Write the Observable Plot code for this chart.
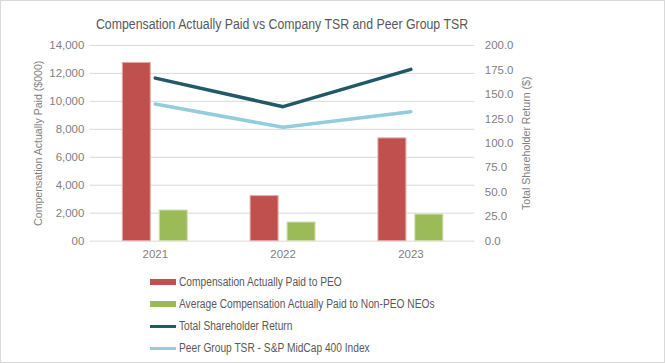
<!DOCTYPE html>
<html>
<head>
<meta charset="utf-8">
<script src="https://cdn.jsdelivr.net/npm/d3@7"></script>
<script src="https://cdn.jsdelivr.net/npm/@observablehq/plot@0.6"></script>
<style>
  html, body { margin: 0; padding: 0; background: #fff; }
  #frame { position: relative; width: 665px; height: 363px; box-sizing: border-box; border: 1px solid #d9d9d9; overflow: hidden; font-family: "Liberation Sans", Arial, sans-serif; }
  #title { position: absolute; left: 0; width: 562px; top: 15px; text-align: center; font-size: 14px; color: #595959; transform: scaleX(0.88); transform-origin: 281px 0; }
  #chart { position: absolute; left: -1px; top: -1px; }
  #legend { position: absolute; left: 149px; top: 270px; font-size: 12px; color: #595959; }
  .row { height: 22px; display: flex; align-items: center; }
  .sw { width: 26px; margin-right: 3px; flex: none; }
  .lt { display: inline-block; white-space: nowrap; transform: scaleX(0.85); transform-origin: 0 50%; }
</style>
</head>
<body>
<div id="frame">
  <div id="title">Compensation Actually Paid vs Company TSR and Peer Group TSR</div>
  <div id="chart"></div>
  <div id="legend"></div>
</div>
<script>
const years = ["2021", "2022", "2023"];
const peoCap = [12750, 3220, 7350];
const neoCap = [2190, 1330, 1900];
const tsr = [166.6, 137.4, 175.5];
const peerTsr = [140.1, 116.3, 132.3];
const leftTicks = [0, 2000, 4000, 6000, 8000, 10000, 12000, 14000];
const rightTicks = [0, 25, 50, 75, 100, 125, 150, 175, 200];
const seriesNames = [
  "Compensation Actually Paid to PEO",
  "Average Compensation Actually Paid to Non-PEO NEOs",
  "Total Shareholder Return",
  "Peer Group TSR - S&P MidCap 400 Index"
];
const colors = ["#C0504D", "#9BBB59", "#215968", "#93CDDD"];

const ratio = 14000 / 200; // right axis maps 0..200 onto 0..14000
const peoData = years.map((y, i) => ({year: y, value: peoCap[i]}));
const neoData = years.map((y, i) => ({year: y, value: neoCap[i]}));
const tsrData = years.map((y, i) => ({year: y, value: tsr[i] * ratio}));
const peerData = years.map((y, i) => ({year: y, value: peerTsr[i] * ratio}));

const chart = Plot.plot({
  width: 665,
  height: 265,
  marginLeft: 90,
  marginRight: 190,
  marginTop: 45,
  marginBottom: 24,
  style: {fontFamily: "'Liberation Sans', Arial, sans-serif", fontSize: "11.5px", color: "#7f7f7f", background: "transparent"},
  x: {type: "band", domain: years, padding: 0},
  y: {domain: [0, 14000]},
  marks: [
    Plot.gridY(leftTicks, {stroke: "#d9d9d9", strokeOpacity: 1}),
    Plot.axisY(leftTicks, {anchor: "left", tickSize: 0, tickPadding: 6, label: null,
      tickFormat: d => d === 0 ? "00" : d3.format(",")(d)}),
    Plot.axisY(rightTicks.map(v => v * ratio), {anchor: "right", tickSize: 0, tickPadding: 10, label: null,
      tickFormat: d => (d / ratio).toFixed(1)}),
    Plot.axisX({tickSize: 0, tickPadding: 9, label: null}),
    Plot.text(["Compensation Actually Paid ($000)"], {frameAnchor: "left", dx: -52, rotate: -90, textAnchor: "middle", fill: "#7f7f7f", fontSize: 10.6}),
    Plot.text(["Total Shareholder Return ($)"], {frameAnchor: "right", dx: 52, rotate: -90, textAnchor: "middle", fill: "#7f7f7f", fontSize: 10.6}),
    Plot.barY(peoData, {x: "year", y: "value", fill: colors[0], stroke: "#e3a9a7", strokeWidth: 1, insetLeft: 31.5, insetRight: 68.5}),
    Plot.barY(neoData, {x: "year", y: "value", fill: colors[1], stroke: "#cfdfae", strokeWidth: 1, insetLeft: 68.5, insetRight: 31.5}),
    Plot.line(tsrData, {x: "year", y: "value", stroke: colors[2], strokeWidth: 3.5}),
    Plot.line(peerData, {x: "year", y: "value", stroke: colors[3], strokeWidth: 3.5})
  ]
});
document.getElementById("chart").appendChild(chart);

const legend = document.getElementById("legend");
seriesNames.forEach((name, i) => {
  const row = document.createElement("div");
  row.className = "row";
  const sw = document.createElement("div");
  sw.className = "sw";
  sw.style.height = i < 2 ? "6px" : "3px";
  sw.style.background = colors[i];
  const t = document.createElement("span");
  t.className = "lt";
  t.textContent = name;
  row.appendChild(sw);
  row.appendChild(t);
  legend.appendChild(row);
});
</script>
</body>
</html>
